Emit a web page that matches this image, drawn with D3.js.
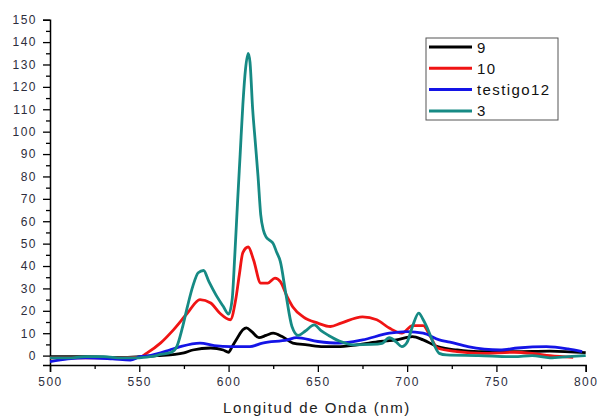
<!DOCTYPE html>
<html>
<head>
<meta charset="utf-8">
<script src="https://cdn.jsdelivr.net/npm/d3@7"></script>
<style>
  body { margin: 0; background: #fff; }
  text { font-family: "Liberation Sans", Arial, sans-serif; }
</style>
</head>
<body>
<svg id="chart" width="597" height="416"></svg>
<script>
// series names as in the legend
const seriesNames = ['9', '10', 'testigo12', '3'];
const seriesColors = ['#000000', '#f01414', '#1414e6', '#168a84'];

// wavelength (nm) / intensity pairs
const s9 = [
  [500, -0.5], [520, -0.5], [540, -0.8], [550, -0.5], [560, 0], [570, 0.5], [575, 1.2],
  [580, 2.5], [590, 3.4], [597, 2.5], [600, 1.5], [602, 4], [605, 8], [608, 11.5],
  [610, 12.4], [613, 10.7], [617, 8], [621, 9], [625, 10], [630, 8.5], [636, 5.6],
  [644, 4.8], [653, 4], [661, 4], [672, 4.8], [685, 6.3], [694, 7], [703, 8.5],
  [709, 7], [717, 4], [728, 2.5], [740, 1.8], [760, 1.8], [780, 2], [800, 1.3]
];
const s10 = [
  [500, -1], [520, -1], [540, -1], [550, -0.8], [554, 1], [562, 5.7], [569, 11.4],
  [577, 19], [584, 25], [590, 23.5], [595, 19], [601, 16], [604, 25], [606, 36],
  [608, 46], [611, 48.5], [614, 42.7], [618, 32.4], [622, 32.4], [626, 34.6],
  [629, 33], [633, 26], [636, 21.7], [642, 17.2], [650, 14.5], [657, 13],
  [663, 14.5], [675, 17.3], [683, 16], [690, 12.3], [697, 10], [703, 13.4],
  [709, 13.4], [713, 8.5], [717, 3.4], [728, 1.8], [742, 1], [760, 1.5],
  [770, 1], [780, 0], [793, -0.8]
];
const s12 = [
  [500, -2.7], [510, -1.5], [520, -1], [535, -1.5], [545, -2], [550, -0.6],
  [556, 0], [562, 1.2], [567, 2.5], [573, 4], [584, 5.6], [592, 4.5], [601, 4],
  [612, 4], [619, 5.6], [633, 7], [638, 8], [650, 6.3], [662, 5.6], [675, 7],
  [690, 10], [700, 10.7], [709, 10], [718, 7], [724, 6], [734, 4], [752, 2.5],
  [762, 3.4], [778, 4], [790, 3], [798, 1.8]
];
const s3 = [
  [500, -1], [510, -1], [520, -0.5], [530, -0.5], [540, -1], [550, -1], [556, -0.5],
  [562, 0.5], [568, 1.5], [571, 4], [574, 12], [577, 22], [580, 31], [583, 37],
  [586, 38], [589, 33], [593, 27], [597, 22], [600, 18.5], [602, 25], [603.5, 45],
  [605, 68], [606.5, 90], [608, 112], [609.5, 128], [611, 135], [612, 131],
  [613.5, 110], [615, 95], [616.5, 80], [618, 63], [619.5, 56], [621, 53],
  [623, 51.5], [625, 50], [627, 46], [629, 42], [632, 28], [635.5, 13], [639, 9],
  [643, 11], [648, 13.7], [652, 11], [656, 9], [662, 6.5], [670, 4.8], [680, 5],
  [686, 5.5], [690, 8], [694, 6], [697, 4], [700, 6], [703, 13], [706.5, 19],
  [709, 16], [712, 11], [715, 5], [718, 1], [722, 0.3], [740, 0], [760, -0.5],
  [770, 0], [780, -1], [790, -0.5], [800, 0]
];
const seriesData = [s9, s10, s12, s3];

const xTicks = [500, 550, 600, 650, 700, 750, 800];
const yTicks = d3.range(0, 151, 10);

const svg = d3.select('#chart');

const x = d3.scaleLinear().domain([500, 800]).range([50, 585.7]);
const y = d3.scaleLinear().domain([-4.2, 150]).range([365, 19.7]);

// x axis: major ticks with labels, minor ticks between
svg.append('g')
  .attr('transform', 'translate(0,365)')
  .call(d3.axisBottom(x).tickValues(d3.range(525, 800, 50)).tickSize(4).tickFormat(''))
  .call(g => g.select('.domain').remove())
  .selectAll('line').attr('stroke', '#000').attr('stroke-width', 1.3);

const xAxis = svg.append('g')
  .attr('transform', 'translate(0,365)')
  .call(d3.axisBottom(x).tickValues(xTicks).tickSize(7).tickPadding(5).tickFormat(d3.format('d')));
xAxis.select('.domain').attr('stroke', '#000').attr('stroke-width', 1.5);
xAxis.selectAll('line').attr('stroke', '#000').attr('stroke-width', 1.3);
xAxis.selectAll('text')
  .attr('fill', '#2d2d3c').style('font-size', '12px').style('letter-spacing', '1.5px');

// y axis
svg.append('g')
  .attr('transform', 'translate(50,0)')
  .call(d3.axisLeft(y).tickValues(d3.range(5, 150, 10)).tickSize(4).tickFormat(''))
  .call(g => g.select('.domain').remove())
  .selectAll('line').attr('stroke', '#000').attr('stroke-width', 1.3);

const yAxis = svg.append('g')
  .attr('transform', 'translate(50,0)')
  .call(d3.axisLeft(y).tickValues(yTicks).tickSize(7).tickPadding(6).tickFormat(d3.format('d')));
yAxis.select('.domain').attr('stroke', '#000').attr('stroke-width', 1.5);
yAxis.selectAll('line').attr('stroke', '#000').attr('stroke-width', 1.3);
yAxis.selectAll('text')
  .attr('fill', '#2d2d3c').style('font-size', '12px').style('letter-spacing', '1.5px');

svg.append('text')
  .attr('x', 317)
  .attr('y', 413)
  .attr('text-anchor', 'middle')
  .attr('fill', '#222')
  .style('font-size', '15px')
  .style('letter-spacing', '1.6px')
  .text('Longitud de Onda (nm)');

// curves
const line = d3.line()
  .x(d => x(d[0]))
  .y(d => y(d[1]))
  .curve(d3.curveMonotoneX);

svg.append('g').selectAll('path')
  .data(seriesData)
  .join('path')
  .attr('d', line)
  .attr('fill', 'none')
  .attr('stroke', (d, i) => seriesColors[i])
  .attr('stroke-width', 2.8)
  .attr('stroke-linejoin', 'round');

// legend
const legend = svg.append('g');
legend.append('rect')
  .attr('x', 426).attr('y', 38)
  .attr('width', 132).attr('height', 82)
  .attr('fill', '#fff')
  .attr('stroke', '#555')
  .attr('stroke-width', 1);

const items = legend.selectAll('g.item')
  .data(seriesNames)
  .join('g')
  .attr('class', 'item')
  .attr('transform', (d, i) => `translate(0,${47 + i * 21.3})`);

items.append('line')
  .attr('x1', 429).attr('x2', 472)
  .attr('stroke', (d, i) => seriesColors[i])
  .attr('stroke-width', 3);

items.append('text')
  .attr('x', 477)
  .attr('y', 5.5)
  .attr('fill', '#111')
  .style('font-size', '15px')
  .style('letter-spacing', '1.4px')
  .text(d => d);
</script>
</body>
</html>
